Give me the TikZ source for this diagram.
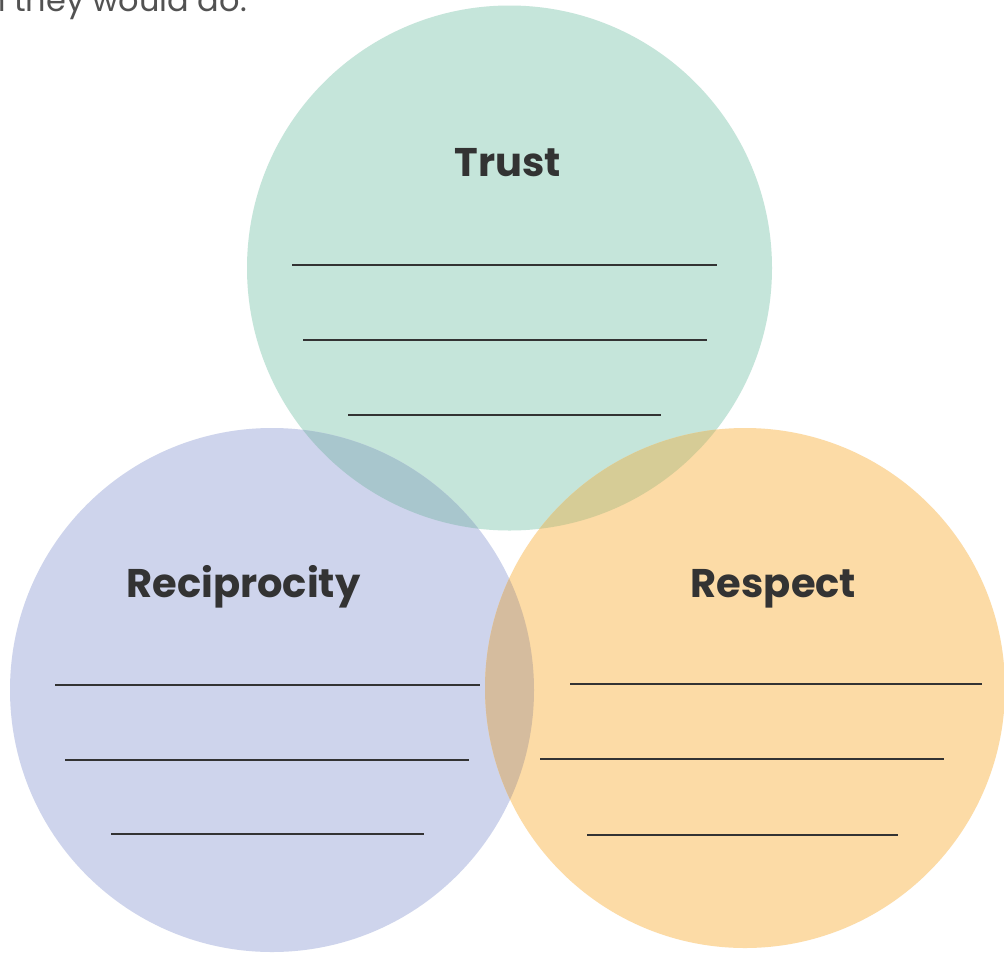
\documentclass[tikz,border=0pt]{standalone}
\usepackage{fontspec}
\setmainfont{Poppins}
\definecolor{trustc}{HTML}{C5E5DA}
\definecolor{recipc}{HTML}{CED4EC}
\definecolor{respc}{HTML}{FCDBA6}
\definecolor{trrc}{HTML}{A8C6CD}
\definecolor{rrsc}{HTML}{D5BC9E}
\definecolor{trsc}{HTML}{D6CC96}
\definecolor{ink}{HTML}{333333}
\begin{document}
\begin{tikzpicture}[x=1pt,y=-1pt,
  title/.style={font=\bfseries\fontsize{40}{48}\selectfont, text=ink, inner sep=0pt, anchor=base},
  blank/.style={draw=ink, line width=1.8pt},
  toptext/.style={font=\fontsize{32}{38}\selectfont, text=ink!85!white, inner sep=0pt, anchor=base west}]
\useasboundingbox (0,0) rectangle (1004,956);
\clip (0,0) rectangle (1004,956);
\fill[white] (0,0) rectangle (1004,956);
\coordinate (T) at (509.5,268);
\coordinate (L) at (272,690);
\coordinate (R) at (745,688);
\def\rT{262.5pt}
\def\rL{262pt}
\def\rR{260pt}
% circles
\fill[trustc] (T) circle (\rT);
\fill[recipc] (L) circle (\rL);
\fill[respc] (R) circle (\rR);
% overlaps
\begin{scope}
  \clip (T) circle (\rT);
  \fill[trrc] (L) circle (\rL);
\end{scope}
\begin{scope}
  \clip (T) circle (\rT);
  \fill[trsc] (R) circle (\rR);
\end{scope}
\begin{scope}
  \clip (L) circle (\rL);
  \fill[rrsc] (R) circle (\rR);
\end{scope}
% top fragment
\node[toptext] (frag) at (-15,11) {n they would do.};
% titles
\node[title] (trust) at (508,176) {Trust};
\node[title] (recip) at (243.5,597) {Reciprocity};
\node[title] (resp) at (773.5,597) {Respect};
% writing lines
\draw[blank] (292,265) -- (717,265);
\draw[blank] (303,340) -- (707,340);
\draw[blank] (348,415) -- (661,415);
\draw[blank] (55,685) -- (480,685);
\draw[blank] (65,760) -- (469,760);
\draw[blank] (111,834) -- (424,834);
\draw[blank] (570,684) -- (982,684);
\draw[blank] (540,759) -- (944,759);
\draw[blank] (587,835) -- (898,835);
\end{tikzpicture}
\end{document}
